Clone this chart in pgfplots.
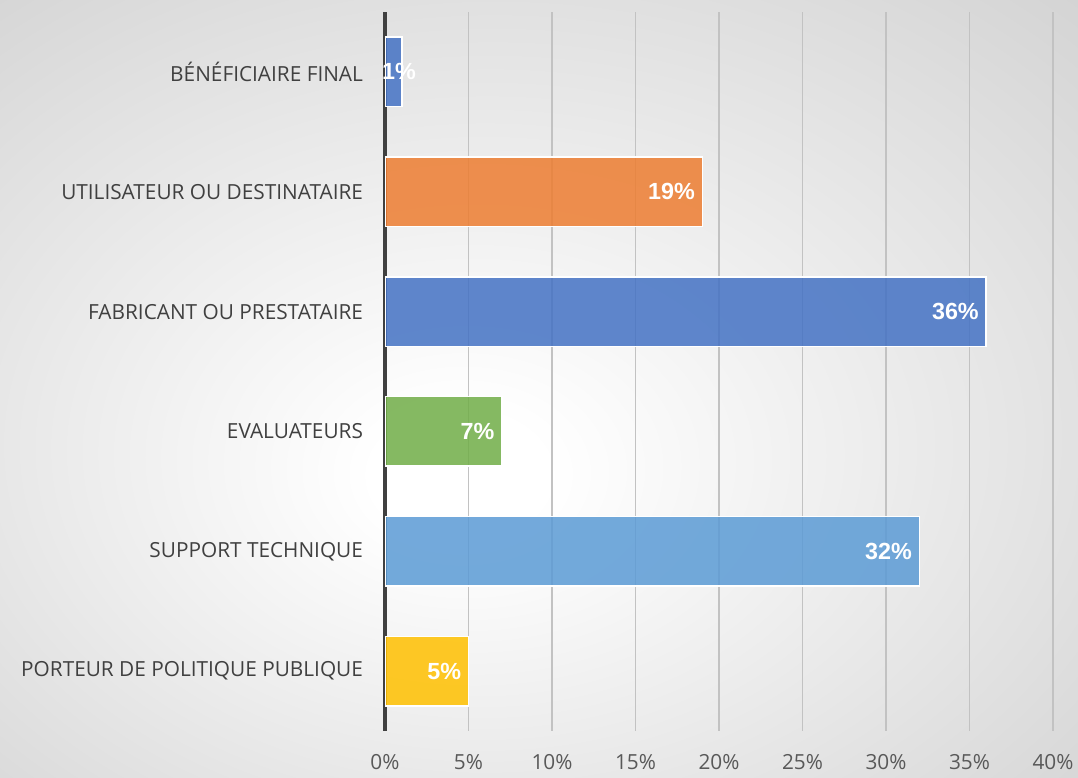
\documentclass[border=0pt]{standalone}
\usepackage{pgfplots}
\pgfplotsset{compat=1.18}
\usepackage{fontspec}
\setmainfont{Open Sans}
\newfontfamily\lab{Liberation Sans}
\definecolor{cBlue}{HTML}{4472C4}
\definecolor{cOrange}{HTML}{ED7D31}
\definecolor{cGreen}{HTML}{70AD47}
\definecolor{cLight}{HTML}{5B9BD5}
\definecolor{cYellow}{HTML}{FFC000}
\definecolor{txtDark}{HTML}{404040}
\definecolor{txtTick}{HTML}{595959}
\pgfdeclareradialshading{bgshade}{\pgfpoint{-4bp}{-6bp}}{color(0bp)=(white);color(4bp)=(white);color(56bp)=(gray!52)}

\begin{document}
\begin{tikzpicture}[x=0.75pt,y=0.75pt]
\useasboundingbox (0,0) rectangle (1078,778);
\shade[shading=bgshade] (0,0) rectangle (1078,778);
\begin{axis}[
  at={(288.75pt,35.25pt)}, anchor=south west,
  scale only axis, width=501pt, height=539.25pt,
  xbar, bar shift=0pt, bar width=0.58,
  xmin=0, xmax=40, ymin=-0.5, ymax=5.5,
  xtick={0,5,...,40}, ytick={0,...,5},
  yticklabels={PORTEUR DE POLITIQUE PUBLIQUE, SUPPORT TECHNIQUE, EVALUATEURS, FABRICANT OU PRESTATAIRE, UTILISATEUR OU DESTINATAIRE, BÉNÉFICIAIRE FINAL},
  xticklabel={\pgfmathprintnumber[assume math mode=true]{\tick}\%},
  xmajorgrids, grid style={draw=black!24, line width=1.3pt},
  axis y line*=left, axis x line*=bottom,
  x axis line style={draw=none},
  y axis line style={draw=black!75, line width=2.3pt, -},
  major tick length=0pt,
  yticklabel style={font=\fontsize{15.6}{18}\selectfont, text=txtDark, xshift=-13pt},
  xticklabel style={font=\fontsize{15.6}{18}\selectfont, text=txtTick, yshift=-14pt},
  point meta=x,
  nodes near coords={\pgfmathprintnumber[assume math mode=true]{\pgfplotspointmeta}\%},
  nodes near coords style={font=\lab\bfseries\fontsize{17.5}{20}\selectfont, text=white, anchor=east, inner sep=3pt, xshift=-2pt, text opacity=1},
  every axis plot/.append style={draw=white, line width=1.2pt, fill opacity=0.85},
]
\addplot[fill=cYellow] coordinates {(5,0)};
\addplot[fill=cLight] coordinates {(32,1)};
\addplot[fill=cGreen] coordinates {(7,2)};
\addplot[fill=cBlue] coordinates {(36,3)};
\addplot[fill=cOrange] coordinates {(19,4)};
\addplot[fill=cBlue, nodes near coords style={anchor=center, xshift=0pt}] coordinates {(1,5)};
\end{axis}
\end{tikzpicture}
\end{document}
